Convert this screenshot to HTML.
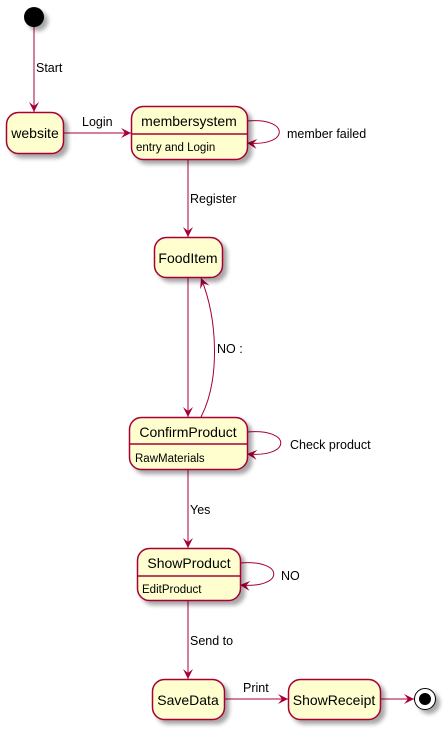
<!DOCTYPE html>
<html><head><meta charset="utf-8"><style>
html,body{margin:0;padding:0;background:#fff;}
svg{display:block;font-family:"Liberation Sans",sans-serif;}
</style></head><body>
<svg width="445" height="729" viewBox="0 0 445 729" xmlns="http://www.w3.org/2000/svg">
<defs>
<filter id="sh" x="-20%" y="-20%" width="150%" height="150%"><feGaussianBlur in="SourceAlpha" stdDeviation="2"/><feOffset dx="4" dy="4"/><feComponentTransfer><feFuncA type="linear" slope="0.35"/></feComponentTransfer><feMerge><feMergeNode/><feMergeNode in="SourceGraphic"/></feMerge></filter>
<marker id="ah" viewBox="0 0 10 10" refX="10" refY="5" markerWidth="10" markerHeight="10" orient="auto" markerUnits="userSpaceOnUse"><path d="M0,0 L10,5 L0,10 L4,5 Z" fill="#A80036"/></marker>
</defs>
<g fill="none" stroke="#A80036" stroke-width="1">
<line x1="34" y1="27" x2="34" y2="112" marker-end="url(#ah)"/>
<line x1="63" y1="133" x2="131" y2="133" marker-end="url(#ah)"/>
<path d="M247,121 C290,117 290,147 247,143" marker-end="url(#ah)"/>
<line x1="188" y1="159" x2="188" y2="237" marker-end="url(#ah)"/>
<line x1="188" y1="277" x2="188" y2="417" marker-end="url(#ah)"/>
<path d="M201,417 C220,380 218,320 201,278" marker-end="url(#ah)"/>
<path d="M247,432 C292,428 292,458 247,454" marker-end="url(#ah)"/>
<line x1="188" y1="469" x2="188" y2="548" marker-end="url(#ah)"/>
<path d="M240,563 C285,559 285,589 240,585" marker-end="url(#ah)"/>
<line x1="188" y1="600" x2="188" y2="679" marker-end="url(#ah)"/>
<line x1="224" y1="699" x2="288" y2="699" marker-end="url(#ah)"/>
<line x1="380" y1="699" x2="414" y2="699" marker-end="url(#ah)"/>
</g>
<g filter="url(#sh)">
<circle cx="34" cy="17" r="10" fill="#000"/>
<rect x="6.5" y="112.5" width="57" height="41" rx="12" fill="#FEFECE" stroke="#A80036" stroke-width="1.5"/>
<rect x="131.5" y="106.5" width="116" height="53" rx="12" fill="#FEFECE" stroke="#A80036" stroke-width="1.5"/>
<rect x="154.5" y="237.5" width="68" height="40" rx="12" fill="#FEFECE" stroke="#A80036" stroke-width="1.5"/>
<rect x="129.5" y="417.5" width="118" height="52" rx="12" fill="#FEFECE" stroke="#A80036" stroke-width="1.5"/>
<rect x="137.5" y="548.5" width="103" height="52" rx="12" fill="#FEFECE" stroke="#A80036" stroke-width="1.5"/>
<rect x="152.5" y="679.5" width="72" height="40" rx="12" fill="#FEFECE" stroke="#A80036" stroke-width="1.5"/>
<rect x="288.5" y="679.5" width="92" height="40" rx="12" fill="#FEFECE" stroke="#A80036" stroke-width="1.5"/>
<circle cx="425" cy="699" r="10.5" fill="#fff" stroke="#000" stroke-width="1"/>
</g>
<circle cx="425" cy="699" r="6" fill="#000"/>
<g stroke="#A80036" stroke-width="1.5">
<line x1="131.5" y1="134" x2="247.5" y2="134"/>
<line x1="129.5" y1="444" x2="247.5" y2="444"/>
<line x1="137.5" y1="576" x2="240.5" y2="576"/>
</g>
<g font-size="14" fill="#000">
<text x="35" y="138" text-anchor="middle">website</text>
<text x="189" y="126" text-anchor="middle">membersystem</text>
<text x="188" y="263" text-anchor="middle">FoodItem</text>
<text x="188" y="437" text-anchor="middle">ConfirmProduct</text>
<text x="189" y="568" text-anchor="middle">ShowProduct</text>
<text x="188" y="705" text-anchor="middle">SaveData</text>
<text x="334" y="705" text-anchor="middle">ShowReceipt</text>
</g>
<g font-size="11.5" fill="#000">
<text x="136" y="151">entry and Login</text>
<text x="135" y="462">RawMaterials</text>
<text x="142" y="593">EditProduct</text>
</g>
<g font-size="12.5" fill="#000">
<text x="36" y="72">Start</text>
<text x="82" y="126">Login</text>
<text x="287" y="138">member failed</text>
<text x="190" y="203">Register</text>
<text x="217" y="353">NO :</text>
<text x="290" y="449">Check product</text>
<text x="190" y="514">Yes</text>
<text x="281" y="580">NO</text>
<text x="190" y="645">Send to</text>
<text x="243" y="692">Print</text>
</g>
</svg>
</body></html>
